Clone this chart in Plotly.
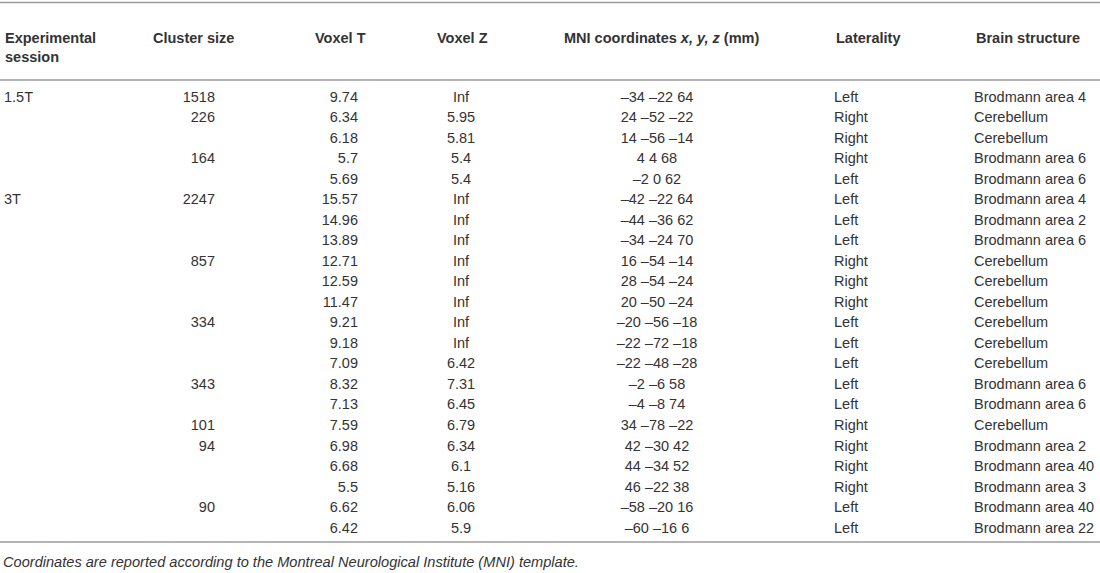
import plotly.graph_objects as go

session = ["1.5T", "", "", "", "", "3T", "", "", "", "", "", "", "", "", "", "", "", "", "", "", "", ""]
cluster_size = [1518, 226, None, 164, None, 2247, None, None, 857, None, None, 334, None, None,
                343, None, 101, 94, None, None, 90, None]
voxel_t = ["9.74", "6.34", "6.18", "5.7", "5.69", "15.57", "14.96", "13.89", "12.71", "12.59", "11.47",
           "9.21", "9.18", "7.09", "8.32", "7.13", "7.59", "6.98", "6.68", "5.5", "6.62", "6.42"]
voxel_z = ["Inf", "5.95", "5.81", "5.4", "5.4", "Inf", "Inf", "Inf", "Inf", "Inf", "Inf",
           "Inf", "Inf", "6.42", "7.31", "6.45", "6.79", "6.34", "6.1", "5.16", "6.06", "5.9"]
mni = ["–34 –22 64", "24 –52 –22", "14 –56 –14", "4 4 68", "–2 0 62", "–42 –22 64", "–44 –36 62",
       "–34 –24 70", "16 –54 –14", "28 –54 –24", "20 –50 –24", "–20 –56 –18", "–22 –72 –18",
       "–22 –48 –28", "–2 –6 58", "–4 –8 74", "34 –78 –22", "42 –30 42", "44 –34 52", "46 –22 38",
       "–58 –20 16", "–60 –16 6"]
laterality = ["Left", "Right", "Right", "Right", "Left", "Left", "Left", "Left", "Right", "Right", "Right",
              "Left", "Left", "Left", "Left", "Left", "Right", "Right", "Right", "Right", "Left", "Left"]
structure = ["Brodmann area 4", "Cerebellum", "Cerebellum", "Brodmann area 6", "Brodmann area 6",
             "Brodmann area 4", "Brodmann area 2", "Brodmann area 6", "Cerebellum", "Cerebellum",
             "Cerebellum", "Cerebellum", "Cerebellum", "Cerebellum", "Brodmann area 6", "Brodmann area 6",
             "Cerebellum", "Brodmann area 2", "Brodmann area 40", "Brodmann area 3", "Brodmann area 40",
             "Brodmann area 22"]

headers = ["<b>Experimental<br>session</b>", "<b>Cluster size</b>", "<b>Voxel T</b>", "<b>Voxel Z</b>",
           "<b>MNI coordinates <i>x, y, z</i> (mm)</b>", "<b>Laterality</b>", "<b>Brain structure</b>"]
footnote = "<i>Coordinates are reported according to the Montreal Neurological Institute (MNI) template.</i>"

FONT = "Liberation Sans, Arial, sans-serif"
TXT = "#333333"
RULE = "#9b9b9b"
SIZE = 14.5

rows = list(range(len(voxel_t)))

# column anchor (px), cell text position, header anchor, header xanchor
columns = [
    (session, 4, "middle right", 3, "left"),
    ([str(c) if c is not None else "" for c in cluster_size], 215, "middle left", 151, "left"),
    (voxel_t, 358, "middle left", 340, "center"),
    (voxel_z, 461, "middle center", 462, "center"),
    (mni, 657, "middle center", 661, "center"),
    (laterality, 834, "middle right", 834, "left"),
    (structure, 974, "middle right", 974, "left"),
]

fig = go.Figure()
for vals, xpos, tpos, hx, hanchor in columns:
    fig.add_trace(go.Scatter(
        x=[xpos] * len(vals), y=rows, mode="text", text=vals, textposition=tpos,
        textfont=dict(family=FONT, size=SIZE, color=TXT), hoverinfo="skip", showlegend=False,
    ))

for (vals, xpos, tpos, hx, hanchor), h in zip(columns, headers):
    two_lines = "<br>" in h
    fig.add_annotation(
        x=hx, xref="x", y=1 - 47.5 / 573 if two_lines else 1 - 38 / 573, yref="paper",
        text=h, showarrow=False, xanchor=hanchor, yanchor="middle", align="left",
        font=dict(family=FONT, size=SIZE, color=TXT),
    )

fig.add_annotation(
    x=1, xref="x", y=1 - 562 / 573, yref="paper", text=footnote, showarrow=False,
    xanchor="left", yanchor="middle", font=dict(family=FONT, size=14.6, color=TXT),
)

for py in [2.5, 80, 542]:
    fig.add_shape(type="line", xref="paper", yref="paper", x0=0, x1=1,
                  y0=1 - py / 573, y1=1 - py / 573, line=dict(color=RULE, width=1.6))

step = (528 - 97) / 21
fig.update_layout(
    width=1100, height=573, margin=dict(l=0, r=0, t=0, b=0),
    paper_bgcolor="white", plot_bgcolor="white",
    xaxis=dict(range=[0, 1100], visible=False, fixedrange=True),
    yaxis=dict(range=[(573 - 98) / step, -98 / step], visible=False, fixedrange=True),
)

fig.write_html("out.html", config={"displayModeBar": False},
               post_script="document.body.style.margin='0';document.body.style.overflow='hidden';")
